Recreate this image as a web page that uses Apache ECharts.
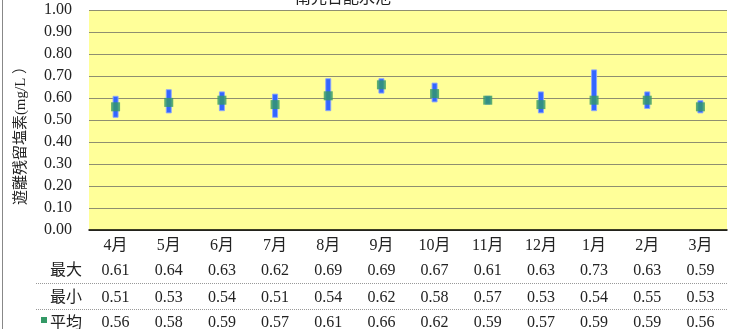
<!DOCTYPE html>
<html><head><meta charset="utf-8">
<script src="https://cdn.jsdelivr.net/npm/echarts@6/dist/echarts.min.js"></script>
<style>html,body{margin:0;padding:0;background:#fff}#c{width:750px;height:329px}</style>
</head><body><div id="c"></div>
<script>
const months = ['4月','5月','6月','7月','8月','9月','10月','11月','12月','1月','2月','3月'];
const maxVals = [0.61,0.64,0.63,0.62,0.69,0.69,0.67,0.61,0.63,0.73,0.63,0.59];
const minVals = [0.51,0.53,0.54,0.51,0.54,0.62,0.58,0.57,0.53,0.54,0.55,0.53];
const meanVals = [0.56,0.58,0.59,0.57,0.61,0.66,0.62,0.59,0.57,0.59,0.59,0.56];
const yTicks = {min:0, max:1, interval:0.1};
const rowHeaders = ['最大','最小','平均'];
const titleText = '南光台配水池';
const yName = '遊離残留塩素(mg/L ）';

const serif = '"Liberation Serif","DejaVu Serif","Noto Sans CJK JP",serif';
const fmt = v => v.toFixed(2);
const chart = echarts.init(document.getElementById('c'));
const gridL = 89, gridR = 727, gridT = 10, gridB = 230;
function tableAxis(vals, offset){
  return {type:'category', data: vals.map(fmt), position:'bottom', offset: offset,
    axisLine:{show:false}, axisTick:{show:false}, splitLine:{show:false},
    axisLabel:{color:'#222', fontFamily:serif, fontSize:16, margin:8, interval:0}};
}
chart.setOption({
  animation:false,
  backgroundColor:'#fff',
  title:{text:titleText, left:290, top:-14, textStyle:{fontSize:16, fontWeight:'normal', color:'#222', fontFamily:serif}},
  grid:{left:gridL, right:750-gridR, top:gridT, bottom:329-gridB, show:true, backgroundColor:'#ffff99', borderWidth:0,
    containLabel:false, outerBoundsMode:'none'},
  xAxis:[
    {type:'category', data: months, position:'bottom',
      axisLine:{show:true, lineStyle:{color:'#000', width:1.5}}, axisTick:{show:false},
      axisLabel:{color:'#222', fontFamily:serif, fontSize:16, margin:8, interval:0}},
    tableAxis(maxVals, 25),
    tableAxis(minVals, 52),
    tableAxis(meanVals, 77)
  ],
  yAxis:{type:'value', min:yTicks.min, max:yTicks.max, interval:yTicks.interval,
    name:yName, nameLocation:'middle', nameGap:60,
    nameTextStyle:{fontSize:15, color:'#222', fontFamily:serif, padding:[0,0,0,-24]},
    axisLine:{show:false}, axisTick:{show:false},
    axisLabel:{formatter:v=>v.toFixed(2), color:'#222', fontFamily:serif, fontSize:16, margin:17},
    splitLine:{lineStyle:{color:'#8f8f70', width:1.2}}},
  series:[
    {type:'bar', stack:'r', data:minVals, barWidth:6, silent:true,
      itemStyle:{color:'transparent'}},
    {type:'bar', stack:'r', data:maxVals.map((v,i)=>+(v-minVals[i]).toFixed(2)), barWidth:6, silent:true,
      itemStyle:{color:'#3366ff', borderColor:'rgba(140,165,255,0.9)', borderWidth:1}},
    {type:'scatter', data:meanVals, symbol:'rect', symbolSize:9, z:5, silent:true,
      itemStyle:{color:'#339966'}}
  ],
  graphic:[
    {type:'line', shape:{x1:2.5,y1:0,x2:2.5,y2:329}, style:{stroke:'#888', lineWidth:1}},
    {type:'line', shape:{x1:36,y1:283.5,x2:gridR,y2:283.5}, style:{stroke:'#999', lineWidth:1, lineDash:[1,1]}},
    {type:'line', shape:{x1:36,y1:309.5,x2:gridR,y2:309.5}, style:{stroke:'#999', lineWidth:1, lineDash:[1,1]}},
    {type:'text', right:750-82, top:261, style:{text:rowHeaders[0], font:'16px "Noto Sans CJK JP"', fill:'#222', textAlign:'right'}},
    {type:'text', right:750-82, top:288, style:{text:rowHeaders[1], font:'16px "Noto Sans CJK JP"', fill:'#222', textAlign:'right'}},
    {type:'text', right:750-82, top:314, style:{text:rowHeaders[2], font:'16px "Noto Sans CJK JP"', fill:'#222', textAlign:'right'}},
    {type:'rect', shape:{x:41,y:317,width:6,height:6}, style:{fill:'#339966'}}
  ]
});
</script></body></html>
